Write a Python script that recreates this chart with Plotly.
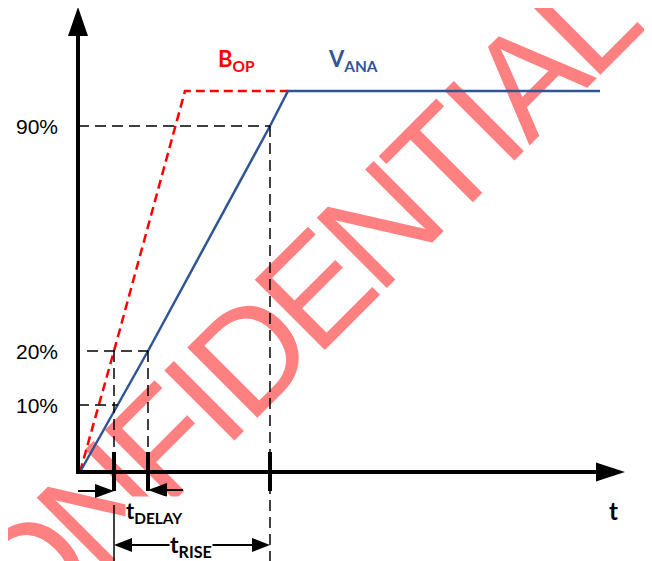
import numpy as np
import plotly.graph_objects as go

# signal levels (y units, time axis at 0)
level_names = ["10%", "20%", "90%"]
level_values = [67, 121, 346]

# V_ANA ramp (solid blue) and B_OP ramp (dashed red)
t_ana = [2, 70, 192, 210, 522]
v_ana = [0, 121, 346, 381, 381]
t_bop = [2, 36, 107, 210]
v_bop = [0, 121, 381, 381]

BLUE = "#2F5597"
RED = "#FF0000"
FONT = "Liberation Sans, Arial, sans-serif"
BOLD = "Lato, Liberation Sans, sans-serif"

# plot area in "pixel-like" units so arrowheads stay in shape
# (the page body adds an 8px margin, hence the offset)
X_RANGE = [-70, 582]
Y_RANGE = [-97, 464]

# watermark: letters laid out one by one (the original is a bit condensed)
WM_TEXT = "CONFIDENTIAL"
WM_ADV = {"C": 0.722, "O": 0.778, "N": 0.722, "F": 0.611, "I": 0.278,
          "D": 0.722, "E": 0.667, "T": 0.611, "A": 0.667, "L": 0.556}
WM_SIZE = 144
WM_STEP = 132          # px per em along the baseline
WM_BASE = (226, 101)   # middle of the baseline


def crossing(level, t, v):
    # time where the rising part of a ramp reaches a level
    k = int(np.argmax(v)) + 1
    return float(np.interp(level, v[:k], t[:k]))


lv = dict(zip(level_names, level_values))
t10_ana = crossing(lv["10%"], t_ana, v_ana)
t20_ana = crossing(lv["20%"], t_ana, v_ana)
t90_ana = crossing(lv["90%"], t_ana, v_ana)
t20_bop = crossing(lv["20%"], t_bop, v_bop)


def arrowhead(x, y, direction, length, half):
    # filled triangle with its tip at (x, y)
    if direction == "right":
        p = [(x, y), (x - length, y + half), (x - length, y - half)]
    elif direction == "left":
        p = [(x, y), (x + length, y + half), (x + length, y - half)]
    else:  # up
        p = [(x, y), (x - half, y - length), (x + half, y - length)]
    return dict(type="path", xref="x", yref="y", line=dict(width=0),
                fillcolor="black",
                path="M{},{} L{},{} L{},{} Z".format(*p[0], *p[1], *p[2]))


fig = go.Figure()

# watermark letters as shape labels, so they sit under the curves
c45 = np.cos(np.radians(45))
total = sum(WM_ADV[ch] for ch in WM_TEXT)
off = 0.4415 * WM_SIZE  # plotly drops the baseline this far below the anchor
pos = 0.0
for ch in WM_TEXT:
    a = (pos + WM_ADV[ch] / 2 - total / 2) * WM_STEP
    cx = WM_BASE[0] + a * c45 - off * c45
    cy = WM_BASE[1] + a * c45 + off * c45
    pos += WM_ADV[ch]
    fig.add_shape(type="rect", xref="x", yref="y", x0=cx - 1, x1=cx + 1, y0=cy - 1, y1=cy + 1,
                  line=dict(width=0), fillcolor="rgba(0,0,0,0)", layer="below",
                  label=dict(text=ch, textangle=-45, textposition="middle center",
                             font=dict(size=WM_SIZE, color="#FF8080", family=FONT)))

fig.add_trace(go.Scatter(x=t_bop, y=v_bop, mode="lines", name="B_OP",
                         line=dict(color=RED, width=2.5, dash="9px,5px")))
fig.add_trace(go.Scatter(x=t_ana, y=v_ana, mode="lines", name="V_ANA",
                         line=dict(color=BLUE, width=2.5)))

dash = dict(color="black", width=1.5, dash="11px,6px")
shapes = [
    # 90 % / 20 % / 10 % guides
    dict(type="line", x0=0, x1=t90_ana, y0=lv["90%"], y1=lv["90%"], line=dash),
    dict(type="line", x0=9, x1=t20_ana, y0=lv["20%"], y1=lv["20%"], line=dash),
    dict(type="line", x0=0, x1=t10_ana, y0=lv["10%"], y1=lv["10%"], line=dash),
    dict(type="line", x0=t20_bop, x1=t20_bop, y0=lv["20%"], y1=0, line=dash),
    dict(type="line", x0=t20_ana, x1=t20_ana, y0=lv["20%"], y1=0, line=dash),
    dict(type="line", x0=t90_ana, x1=t90_ana, y0=lv["90%"], y1=Y_RANGE[0], line=dash),
    dict(type="line", x0=t20_bop, x1=t20_bop, y0=-33, y1=Y_RANGE[0],
         line=dict(color="black", width=1.5)),
    # axes
    dict(type="line", x0=0, x1=0, y0=-2, y1=437, line=dict(color="black", width=4)),
    dict(type="line", x0=-2, x1=519, y0=0, y1=0, line=dict(color="black", width=4)),
    arrowhead(0, 465, "up", 29, 10),
    arrowhead(547, 0, "right", 29, 9.5),
    # t_DELAY arrows
    dict(type="line", x0=0, x1=t20_bop - 15, y0=-19, y1=-19, line=dict(color="black", width=2)),
    arrowhead(t20_bop, -19, "right", 19, 7),
    dict(type="line", x0=t20_ana + 15, x1=105, y0=-18, y1=-18, line=dict(color="black", width=2)),
    arrowhead(t20_ana, -18, "left", 19, 7),
    # t_RISE arrow
    dict(type="line", x0=t20_bop + 15, x1=t90_ana - 15, y0=-73, y1=-73,
         line=dict(color="black", width=2)),
    arrowhead(t20_bop, -73, "left", 18, 7),
    arrowhead(t90_ana, -73, "right", 18, 7),
]
# thick marks on the time axis
for t in [t20_bop, t20_ana, t90_ana]:
    shapes.append(dict(type="line", x0=t, x1=t, y0=20, y1=-19,
                       line=dict(color="black", width=4)))
for s in shapes:
    s.setdefault("xref", "x")
    s.setdefault("yref", "y")
    fig.add_shape(**s)

# labels
for name, val in zip(level_names, level_values):
    fig.add_annotation(x=-18, y=val, text=name, showarrow=False, xanchor="right",
                       font=dict(size=21, color="black", family=FONT))
fig.add_annotation(x=138, y=412, text="B<sub>OP</sub>", showarrow=False, xanchor="left",
                   font=dict(size=22, color=RED, family=BOLD, weight="bold"))
fig.add_annotation(x=248, y=412, text="V<sub>ANA</sub>", showarrow=False, xanchor="left",
                   font=dict(size=22, color=BLUE, family=BOLD, weight="bold"))
fig.add_annotation(x=535, y=-38, text="t", showarrow=False,
                   font=dict(size=24, color="black", family=BOLD, weight="bold"))
fig.add_annotation(x=47, y=-40, text="t<sub>DELAY</sub>", showarrow=False, xanchor="left",
                   bgcolor="white", borderpad=0,
                   font=dict(size=22, color="black", family=BOLD, weight="bold"))
fig.add_annotation(x=(t20_bop + t90_ana) / 2 - 1, y=-73, text="t<sub>RISE</sub>",
                   showarrow=False, bgcolor="white", borderpad=0,
                   font=dict(size=23, color="black", family=BOLD, weight="bold"))

fig.update_layout(
    width=652, height=561,
    margin=dict(l=0, r=0, t=0, b=0),
    paper_bgcolor="white", plot_bgcolor="white",
    showlegend=False,
    xaxis=dict(range=X_RANGE, visible=False, fixedrange=True),
    yaxis=dict(range=Y_RANGE, visible=False, fixedrange=True),
)

fig.write_html("out.html")
